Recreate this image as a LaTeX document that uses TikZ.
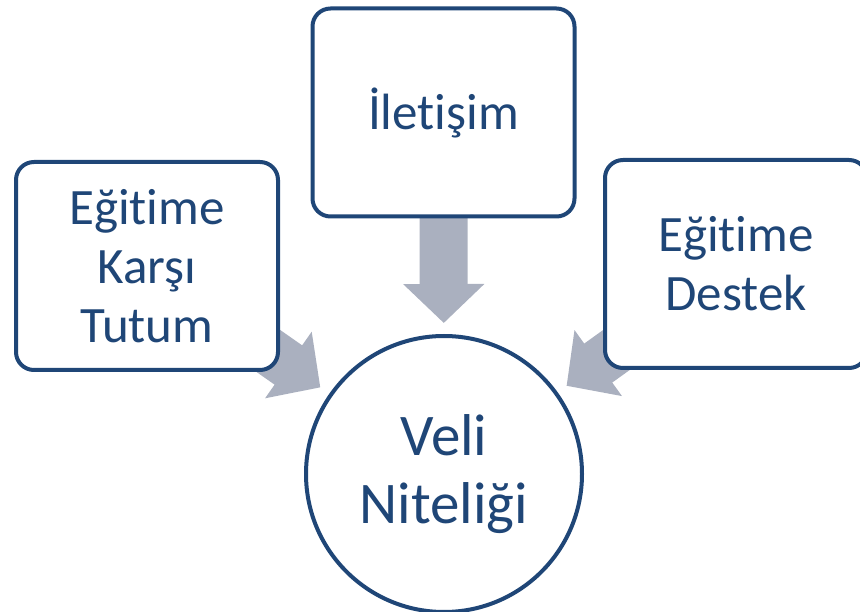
\documentclass[tikz,border=0pt]{standalone}
\usepackage{fontspec}
\setmainfont{Carlito}[RawFeature={-liga,-dlig,-clig}]
\usetikzlibrary{arrows.meta}
\definecolor{navy}{HTML}{1F4677}
\definecolor{arrowgray}{HTML}{AAB0BF}
\tikzset{
  box/.style={draw=navy, line width=4pt, fill=white, rounded corners=18pt,
    minimum width=262pt, minimum height=208pt, inner sep=0pt, align=center,
    text=navy, font=\fontsize{51}{59}\selectfont},
  hub/.style={draw=navy, line width=4pt, fill=white, circle, minimum size=276pt,
    inner sep=0pt, align=center, text=navy, font=\fontsize{59}{68}\selectfont},
  blockarrow/.style={draw=arrowgray, line width=48pt,
    -{Triangle[width=79pt,length=39pt,fill=arrowgray]}, shorten >=11pt}
}
\begin{document}
\begin{tikzpicture}[x=1pt,y=-1pt]
\useasboundingbox (0,0) rectangle (860,612);
\coordinate (cc) at (444,474);
\coordinate (tc) at (443.5,112.5);
\coordinate (lc) at (147,266);
\coordinate (rc) at (736,264);
\node[hub] (C) at (cc) {Veli\\Niteliği};
\draw[blockarrow] (tc) -- (C);
\draw[blockarrow] (lc) -- (C);
\draw[blockarrow] (rc) -- (C);
\node[box] (T) at (tc) {İletişim};
\node[box] (L) at (lc) {Eğitime\\Karşı\\Tutum};
\node[box] (R) at (rc) {Eğitime\\Destek};
\end{tikzpicture}
\end{document}
